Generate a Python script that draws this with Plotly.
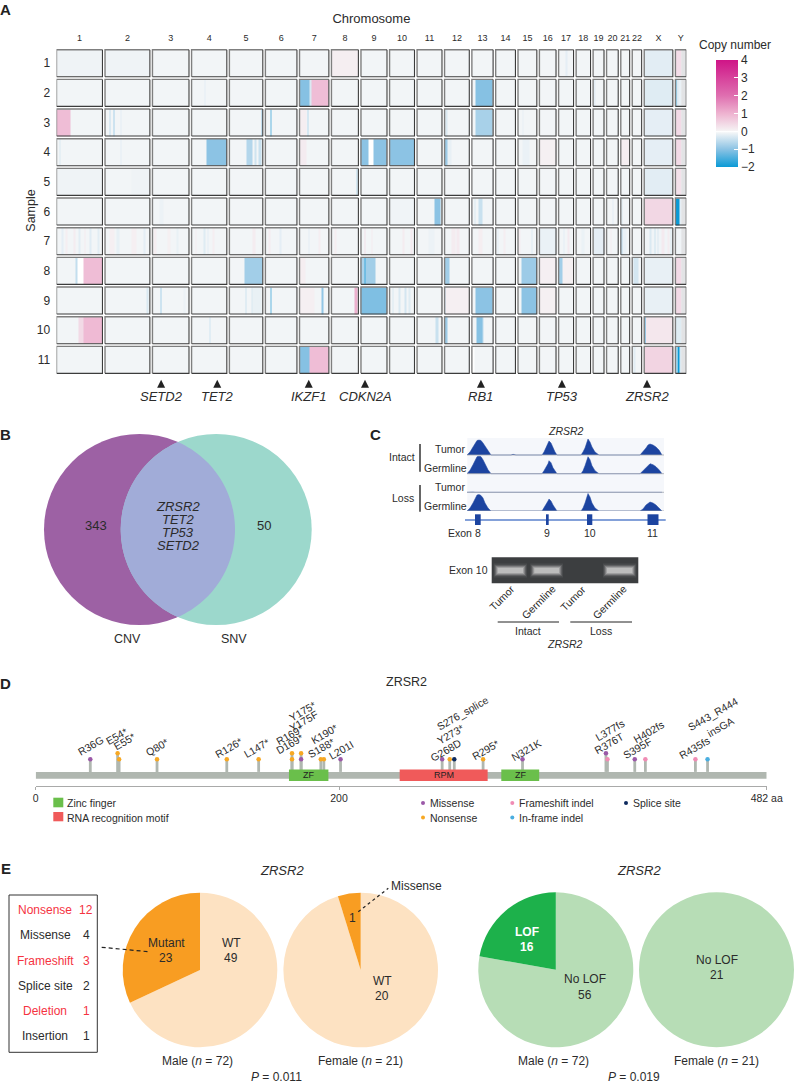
import numpy as np
import plotly.graph_objects as go

W, H = 794, 1084
FONT = "Liberation Sans"
INK = "#2b2b2b"

# ---------- Panel A data ----------
CHROMS = [str(i) for i in range(1, 23)] + ["X", "Y"]
CHROM_MB = [249, 243, 198, 191, 181, 171, 159, 146, 141, 135, 135, 134, 115, 107, 102, 90, 81, 78, 59, 63, 48, 51, 155, 59]
CHROM_GAP_MB = 14
SAMPLES = list(range(1, 12))
BASE_CN = -0.08
X_BASE = [-0.22, -0.25, -0.2, -0.2, -0.22, 0.45, -0.1, -0.17, -0.17, 0.2, 0.5]
Y_LEFT = [0.35, -0.15, 0.4, 0.4, 0.3, -0.2, -0.1, 0.4, 0.4, -0.25, -0.2]
Y_GRAY_FROM = 0.55

# (chromosome, start fraction, end fraction, copy number)
S1 = [("1", 0, 1, -0.11), ("2", 0, 1, -0.11), ("8", 0, 1, 0.1), ("17", 0.45, 0.6, -0.2), ("Y", 0, 0.45, 0.35)]
S2 = [("4", 0.36, 0.39, -0.2), ("7", 0, 0.35, -1.05), ("7", 0.35, 0.42, -0.3), ("7", 0.42, 1, 0.85),
      ("13", 0.15, 0.95, -1.05), ("19", 0.05, 0.2, -0.2), ("Y", 0, 0.1, -1.4), ("Y", 0.1, 0.3, -0.3)]
S3 = [("1", 0, 0.3, 0.85), ("2", 0.1, 0.13, -0.5), ("2", 0.19, 0.22, -0.75), ("2", 0.35, 0.37, -0.2),
      ("5", 0.95, 0.98, -0.9), ("6", 0.15, 0.2, -1.3), ("7", 0, 0.25, 0.1), ("7", 0.28, 0.31, -0.6),
      ("12", 0.03, 0.1, -0.3), ("13", 0.15, 0.95, -0.75), ("15", 0.25, 0.3, -0.17)]
S4 = [("1", 0.07, 0.09, -0.3), ("2", 0.35, 0.37, -0.2), ("4", 0.42, 1, -1.0), ("5", 0.5, 0.68, -0.65),
      ("5", 0.75, 0.82, -0.4), ("5", 0.86, 0.95, -0.45), ("7", 0, 0.25, 0.14), ("9", 0, 0.28, -1.0),
      ("9", 0.28, 0.5, 0), ("9", 0.5, 1, -1.0), ("10", 0, 1, -1.0), ("12", 0, 0.1, -0.85), ("12", 0.1, 0.3, -0.17),
      ("15", 0.25, 0.6, -0.15), ("16", 0, 1, 0.07), ("21", 0, 1, 0.1)]
S5 = [("1", 0, 1, -0.11), ("8", 0.92, 0.96, -0.6), ("2", 0.6, 1, -0.11)]
S6 = [("3", 0.2, 0.3, -0.13), ("10", 0, 1, -0.1), ("11", 0.7, 0.96, -1.0), ("13", 0.1, 0.15, -0.3), ("13", 0.3, 0.5, -0.45),
      ("20", 0.5, 0.6, -0.2), ("21", 0.1, 0.2, -0.3), ("Y", 0, 0.35, -2.0), ("Y", 0.35, 0.55, -0.2)]
S7 = [("1", 0.1, 0.16, -0.2), ("1", 0.2, 0.24, 0.1), ("1", 0.38, 0.42, 0.12), ("1", 0.48, 0.52, -0.22), ("1", 0.6, 0.63, 0.14),
      ("1", 0.72, 0.76, -0.24), ("1", 0.9, 0.94, -0.22), ("2", 0.1, 0.2, 0.08), ("2", 0.25, 0.33, -0.18), ("2", 0.6, 0.7, 0.08),
      ("2", 0.85, 0.9, -0.2), ("3", 0.02, 0.1, 0.1), ("3", 0.4, 0.5, 0.07), ("3", 0.65, 0.7, -0.16), ("4", 0.35, 0.4, -0.25),
      ("4", 0.45, 0.48, -0.2), ("4", 0.1, 0.15, 0.1), ("4", 0.6, 0.65, 0.1), ("5", 0.7, 0.78, 0.12), ("6", 0.1, 0.15, 0.12),
      ("6", 0.45, 0.5, -0.2), ("7", 0.3, 0.34, -0.2), ("7", 0.65, 0.7, 0.1), ("8", 0.1, 0.2, 0.1), ("9", 0.15, 0.18, 0.3),
      ("9", 0.4, 0.44, 0.12), ("10", 0.5, 0.6, 0.12), ("10", 0.85, 0.9, 0.15), ("11", 0.45, 0.7, -0.13), ("12", 0.3, 0.45, 0.12),
      ("12", 0.5, 0.6, 0.15), ("13", 0.3, 0.5, 0.1), ("14", 0.1, 0.15, -0.2), ("14", 0.4, 0.5, 0.1), ("15", 0.05, 0.12, 0.1),
      ("15", 0.7, 0.76, -0.25), ("16", 0, 1, -0.15), ("17", 0.3, 0.4, -0.2), ("17", 0.6, 0.7, 0.15), ("18", 0.4, 0.6, -0.14),
      ("19", 0, 1, -0.2), ("20", 0.3, 0.45, 0.1), ("21", 0, 0.2, -0.55), ("21", 0.2, 0.6, -0.15),
      ("X", 0.2, 0.24, -0.3), ("X", 0.35, 0.39, -0.4), ("X", 0.47, 0.5, -0.3), ("X", 0.6, 0.7, 0.15), ("X", 0.82, 0.88, 0.12), ("X", 0.92, 0.96, -0.25)]
S8 = [("1", 0.42, 0.46, -0.5), ("1", 0.46, 0.58, 0), ("1", 0.58, 1, 0.85), ("5", 0.45, 1, -0.8), ("7", 0, 0.2, 0.1),
      ("9", 0, 0.15, -0.7), ("9", 0.15, 0.18, -1.6), ("9", 0.18, 0.56, -0.8), ("12", 0, 0.2, -0.8),
      ("15", 0.2, 1, -0.85), ("16", 0, 1, 0.08), ("17", 0, 0.25, -0.8), ("17", 0.25, 1, 0.07), ("22", 0.1, 0.7, -0.35)]
S9 = [("2", 0.93, 0.97, -0.3), ("3", 0.22, 0.25, -0.75), ("3", 0.85, 0.9, -0.13), ("5", 0.48, 0.51, -0.4), ("5", 0.65, 0.68, -0.3),
      ("5", 0.68, 0.95, -0.16), ("6", 0.15, 0.2, -1.3), ("7", 0, 0.5, 0.08), ("7", 0.76, 0.8, -0.95), ("8", 0.86, 0.98, 1.05),
      ("9", 0, 1, -1.1), ("10", 0.1, 0.15, -0.3), ("10", 0.35, 0.45, -0.3), ("10", 0.6, 0.68, -0.35), ("10", 0.75, 0.82, -0.25),
      ("12", 0, 0.05, -0.5), ("12", 0.05, 1, 0.08), ("13", 0.15, 0.95, -1.0), ("15", 0.2, 1, -1.0), ("16", 0, 1, 0.07)]
S10 = [("1", 0.48, 0.58, 0.4), ("1", 0.58, 1, 0.9), ("4", 0.51, 0.55, -0.38), ("11", 0.75, 0.85, -0.45), ("12", 0, 0.12, -0.85),
       ("13", 0.2, 0.5, -1.05), ("13", 0.5, 0.55, -0.55), ("X", 0, 0.05, -1.6), ("Y", 0, 0.1, -0.3)]
S11 = [("7", 0, 0.35, -1.05), ("7", 0.35, 1, 0.85), ("13", 0, 0.1, 0), ("22", 0.1, 0.3, -0.22),
       ("Y", 0, 0.13, -1.5), ("Y", 0.13, 0.22, 0), ("Y", 0.22, 0.35, -2.0), ("Y", 0.35, 0.55, -0.3)]
SAMPLE_SEGMENTS = [S1, S2, S3, S4, S5, S6, S7, S8, S9, S10, S11]

GENES = ["SETD2", "TET2", "IKZF1", "CDKN2A", "RB1", "TP53", "ZRSR2"]
GENE_CHROM = ["3", "4", "7", "9", "13", "17", "X"]
GENE_MB = [47, 139, 50, 22, 49, 18, 15]

# ---------- Panel B data ----------
VENN_COUNTS = [343, 50]
VENN_SHARED = ["ZRSR2", "TET2", "TP53", "SETD2"]
VENN_SETS = ["CNV", "SNV"]

# ---------- Panel C data ----------
COV_POS = [0, 3, 6, 8, 10, 12, 14, 16, 18, 21, 24, 44, 46, 49, 75, 77, 79, 81, 82, 84, 86, 88, 90,
           114, 116, 118, 120, 121, 123, 125, 128, 132, 173, 176, 179, 181, 183, 186, 189, 192, 195]
COV_T1 = [0, 3, 8, 12, 14.5, 15, 14.5, 12, 9, 4, 0, 0, 0.7, 0, 0, 3, 7, 12, 14, 12, 7, 3, 0,
          0, 3, 7, 13, 16, 13, 8, 3, 0, 0, 3, 7, 10, 11, 10, 8, 5, 0]
COV_T2 = [0, 3.5, 9, 14, 17, 17.5, 17, 14, 10, 4, 0, 0, 0, 0, 0, 3, 6, 10, 13, 11, 6, 3, 0,
          0, 3, 8, 14, 17, 14, 8, 3, 0, 0, 3, 6, 9, 10, 9, 7, 4, 0]
COV_T3 = [0, 0.5, 0.3, 0, 0, 0, 0, 0, 0, 0, 0, 0, 0, 0, 0, 0, 0.4, 0.5, 0.4, 0, 0, 0, 0,
          0, 0, 0, 0, 0, 0, 0, 0, 0, 0, 0, 0, 0, 0, 0, 0, 0, 0]
COV_T4 = [0, 3, 8, 13, 16, 16.5, 15.5, 13, 8, 3, 0, 0, 0.3, 0, 0, 3, 6, 10, 12, 10, 6, 3, 0,
          0, 3, 8, 14, 17.5, 14, 8, 3, 0, 0, 2, 6, 8, 9, 8, 6, 3, 0]
TRACK_OFFSET = [56, 37.3, 18.7, 0]
EXON_START = [8, 79, 120, 180.5]
EXON_END = [13.7, 81.7, 125.3, 191.5]
EXON_LABEL = ["8", "9", "10", "11"]
GEL_LANES = ["Tumor", "Germline", "Tumor", "Germline"]

# ---------- Panel D data ----------
PROT_LEN = 482
MUT_AA = [36, 54, 55, 80, 126, 147, 169, 169, 175, 175, 188, 190, 201, 268, 273, 276, 295, 321, 376, 377, 395, 402, 435, 443]
MUT_LEVEL = [1, 2, 1, 1, 1, 1, 1, 2, 1, 2, 1, 1, 1, 1, 1, 1, 1, 1, 2, 1, 1, 1, 1, 1]
MUT_TYPE = ["Missense", "Nonsense", "Nonsense", "Nonsense", "Nonsense", "Nonsense", "Nonsense", "Nonsense", "Missense",
            "Nonsense", "Nonsense", "Nonsense", "Missense", "Missense", "Nonsense", "Splice site", "Nonsense", "Missense",
            "Missense", "Frameshift indel", "Missense", "Frameshift indel", "Frameshift indel", "In-frame indel"]
MUT_NAME = ["R36G", "E54*", "E55*", "Q80*", "R126*", "L147*", "D169*", "R169*", "Y175F", "Y175*", "S188*", "K190*", "L201I",
            "G268D", "Y273*", "S276_splice", "R295*", "N321K", "R376T", "L377fs", "S395F", "H402fs", "R435fs", "S443_R444"]
DOMAIN_START = [167, 240, 307]
DOMAIN_END = [193, 298, 332]
DOMAIN_NAME = ["ZF", "RPM", "ZF"]

# ---------- Panel E data ----------
MUT_LABELS = ["WT", "Mutant"]
MUT_MALE = [49, 23]
MUT_FEMALE = [20, 1]
LOF_LABELS = ["No LOF", "LOF"]
LOF_MALE = [56, 16]
LOF_FEMALE = [21, 0]
CLASS_NAME = ["Nonsense", "Missense", "Frameshift", "Splice site", "Deletion", "Insertion"]
CLASS_COUNT = [12, 4, 3, 2, 1, 1]
CLASS_LOF = [True, False, True, False, True, False]


# ---------- helpers ----------
def fx(px):
    return px / W


def fy(py):
    return 1 - py / H


annots, shapes = [], []


def T(x, y, text, size=12, color=INK, anchor="center", angle=0):
    annots.append(dict(xref="paper", yref="paper", x=fx(x), y=fy(y), text=text, showarrow=False,
                       font=dict(family=FONT, size=size, color=color), xanchor=anchor, yanchor="middle",
                       textangle=angle, borderpad=0, borderwidth=0))


def box(x0, y0, x1, y1, fill=None, line=None, lw=1, layer="above"):
    shapes.append(dict(type="rect", xref="paper", yref="paper", x0=fx(x0), x1=fx(x1), y0=fy(y0), y1=fy(y1),
                       fillcolor=fill or "rgba(0,0,0,0)", layer=layer,
                       line=dict(color=line or "rgba(0,0,0,0)", width=lw if line else 0)))


def seg(x0, y0, x1, y1, color=INK, lw=1, dash=None):
    shapes.append(dict(type="line", xref="paper", yref="paper", x0=fx(x0), x1=fx(x1), y0=fy(y0), y1=fy(y1),
                       line=dict(color=color, width=lw, dash=dash or "solid")))


def dot(x, y, r, color):
    shapes.append(dict(type="circle", xref="paper", yref="paper", x0=fx(x - r), x1=fx(x + r), y0=fy(y + r), y1=fy(y - r),
                       fillcolor=color, line=dict(width=0)))


fig = go.Figure()

# ---------- Panel A ----------
chrom_start = {}
pos = 0
for name, size in zip(CHROMS, CHROM_MB):
    chrom_start[name] = pos
    pos += size + CHROM_GAP_MB
GENOME_LEN = pos - CHROM_GAP_MB
chrom_size = dict(zip(CHROMS, CHROM_MB))
ROW_HALF = 0.455


def to_mb(chrom, frac):
    return chrom_start[chrom] + frac * chrom_size[chrom]


all_segments = []
for s, segs in enumerate(SAMPLE_SEGMENTS):
    full = [("X", 0, 1, X_BASE[s]), ("Y", 0, Y_GRAY_FROM, Y_LEFT[s])] + list(segs)
    all_segments.append(full)

edges = {0.0, float(GENOME_LEN)}
for name in CHROMS:
    edges.add(float(chrom_start[name]))
    edges.add(float(chrom_start[name] + chrom_size[name]))
for full in all_segments:
    for c, a, b, _ in full:
        edges.add(float(to_mb(c, a)))
        edges.add(float(to_mb(c, b)))
x_edges = np.array(sorted(edges))
x_mid = (x_edges[:-1] + x_edges[1:]) / 2

y_edges = [0.5]
for sm in SAMPLES:
    y_edges += [sm - ROW_HALF, sm + ROW_HALF]
y_edges.append(11.5)

in_chrom = np.zeros(len(x_mid), dtype=bool)
for name in CHROMS:
    in_chrom |= (x_mid > chrom_start[name]) & (x_mid < chrom_start[name] + chrom_size[name])

z = [[None] * len(x_mid)]
for s, full in enumerate(all_segments):
    row = np.full(len(x_mid), BASE_CN)
    for c, a, b, v in full:
        row[(x_mid > to_mb(c, a)) & (x_mid < to_mb(c, b))] = v
    z.append([float(v) if k else None for v, k in zip(row, in_chrom)])
    z.append([None] * len(x_mid))

CS_STOPS = [(-2, "#0a9ad6"), (-1, "#8cc3e4"), (-0.08, "#f2f5f7"), (0, "#ffffff"), (0.05, "#f5f1f3"), (1, "#eeb3d0"), (2, "#df6fb0"), (4, "#cf1487")]
colorscale = [[(v + 2) / 6, c] for v, c in CS_STOPS]

fig.add_trace(go.Heatmap(x=x_edges, y=y_edges, z=z, zmin=-2, zmax=4, colorscale=colorscale, hoverongaps=False,
                         colorbar=dict(x=fx(716), xanchor="left", y=fy(60), yanchor="top", lenmode="pixels", len=107,
                                       thicknessmode="pixels", thickness=22, xpad=0, ypad=0, outlinewidth=0,
                                       tickvals=[-2, -1, 0, 1, 2, 3, 4], ticks="inside", ticklen=4, tickcolor="white",
                                       tickfont=dict(family=FONT, size=12, color=INK))))

ygray_x0 = to_mb("Y", Y_GRAY_FROM)
ygray_x1 = to_mb("Y", 1)
gray_z = [[None]]
for sm in SAMPLES:
    gray_z += [[1], [None]]
fig.add_trace(go.Heatmap(x=[ygray_x0, ygray_x1], y=y_edges, z=gray_z, zmin=0, zmax=2, showscale=False,
                         colorscale=[[0, "#e2e3e5"], [1, "#e2e3e5"]], hoverinfo="skip"))

tx, ty, bx, by = [], [], [], []
for sm in SAMPLES:
    for name in CHROMS:
        a, b = chrom_start[name], chrom_start[name] + chrom_size[name]
        t, u = sm - ROW_HALF, sm + ROW_HALF
        tx += [a, a, b, None]
        ty += [u, t, t, None]
        bx += [a, b, b, None]
        by += [u, u, t, None]
fig.add_trace(go.Scatter(x=tx, y=ty, mode="lines", line=dict(color="#7f7f7f", width=1.4), hoverinfo="skip", showlegend=False))
fig.add_trace(go.Scatter(x=bx, y=by, mode="lines", line=dict(color="#3c3c3c", width=1.1), hoverinfo="skip", showlegend=False))

gene_x = [chrom_start[c] + m for c, m in zip(GENE_CHROM, GENE_MB)]
fig.add_trace(go.Scatter(x=gene_x, y=[11.67] * len(gene_x), mode="markers", cliponaxis=False, hoverinfo="skip", showlegend=False,
                         marker=dict(symbol="arrow-up", size=8, color="#222222")))
for g, gx in zip(GENES, gene_x):
    annots.append(dict(xref="x", yref="y", x=gx, y=12.25, text=f"<i>{g}</i>", showarrow=False,
                       font=dict(family=FONT, size=13, color=INK)))

T(734.5, 45, "Copy number", 12)
T(30.7, 211, "Sample", 12.5, angle=-90)

# ---------- Panel B ----------
VX1, VX2, VY, VR = 139.5, 216.2, 529.5, 95.5
for cx, col in ((VX1, "#9d61a4"), (VX2, "#9cd8cc")):
    dot(cx, VY, VR, col)
half = np.arccos((VX2 - VX1) / 2 / VR)
ang = np.linspace(-half, half, 60)
lens = [(VX1 + VR * np.cos(a), VY + VR * np.sin(a)) for a in ang] + \
       [(VX2 - VR * np.cos(a), VY - VR * np.sin(a)) for a in ang]
path = "M " + " L ".join(f"{fx(px):.5f},{fy(py):.5f}" for px, py in lens) + " Z"
shapes.append(dict(type="path", xref="paper", yref="paper", path=path, fillcolor="#a1acd8", line=dict(width=0)))
T(96, 525, str(VENN_COUNTS[0]), 13)
T(263.5, 525, str(VENN_COUNTS[1]), 13)
for g, yy in zip(VENN_SHARED, [506.7, 519.7, 532.7, 545.3]):
    T(178.3, yy, f"<i>{g}</i>", 13)
T(127.3, 639.3, VENN_SETS[0], 12.5)
T(234.3, 639.3, VENN_SETS[1], 12.5)

# ---------- Panel C ----------
box(467.3, 438, 664, 511, fill="#f5f7fb", layer="below")
for off, cov in zip(TRACK_OFFSET, [COV_T1, COV_T2, COV_T3, COV_T4]):
    ys = [off + v for v in cov]
    fig.add_trace(go.Scatter(x=COV_POS, y=ys, xaxis="x2", yaxis="y2", mode="lines", fill="toself", fillcolor="#1c44a0",
                             line=dict(color="#1c44a0", width=0.5), hoverinfo="skip", showlegend=False))
    fig.add_trace(go.Scatter(x=[0, 197], y=[off, off], xaxis="x2", yaxis="y2", mode="lines",
                             line=dict(color="#a4a8b0", width=0.8), hoverinfo="skip", showlegend=False))
seg(465, 520, 665.7, 520, "#5b82cc", 1.3)
for a, b in zip(EXON_START, EXON_END):
    shapes.append(dict(type="rect", xref="x2", yref="paper", x0=a, x1=b, y0=fy(525), y1=fy(514.3), fillcolor="#1c44a0", line=dict(width=0)))
for lab, xx in zip(EXON_LABEL, [477.7, 547.3, 590, 652.7]):
    T(xx, 532.7, lab, 10.5)
T(460, 532.7, "Exon", 10.5)
T(566, 431, "<i>ZRSR2</i>", 10.5)
T(450.3, 449, "Tumor", 10.5)
T(445.7, 467.7, "Germline", 10.5)
T(450.3, 487, "Tumor", 10.5)
T(445.7, 506, "Germline", 10.5)
T(401.7, 457.3, "Intact", 10.5)
T(403.3, 497.7, "Loss", 10.5)
seg(420, 444, 420, 471.7, "#333333", 1.5)
seg(420, 485, 420, 511.7, "#333333", 1.5)
box(491.7, 557.3, 638.3, 583.3, fill="#3c3e40")
for a, b in ((495.7, 525), (532.3, 561), (605, 634.3)):
    box(a - 2, 563.5, b + 2, 577.5, fill="rgba(255,255,255,0.07)")
    box(a - 1, 565, b + 1, 576, fill="rgba(255,255,255,0.12)")
    box(a, 566, b, 575, fill="rgba(255,255,255,0.20)")
    box(a + 1, 567, b - 1, 574, fill="rgba(255,255,255,0.25)")
    box(a + 2, 568, b - 2, 573, fill="rgba(255,255,255,0.30)")
T(468.5, 570.3, "Exon 10", 10.5)
for lab, (xx, yy) in zip(GEL_LANES, [(501.7, 598.3), (538.3, 601.7), (573.3, 598.3), (609.3, 601.7)]):
    T(xx, yy, lab, 10.5, angle=-45)
seg(497.7, 622, 559, 622, "#222222", 1)
seg(570.3, 622, 632, 622, "#222222", 1)
T(528, 630.5, "Intact", 10.5)
T(601, 630.5, "Loss", 10.5)
T(564.7, 643.5, "<i>ZRSR2</i>", 10.5)

# ---------- Panel D ----------
BACKBONE_Y, STEM_BASE = -1.67, -1.1
fig.add_trace(go.Scatter(x=[0, PROT_LEN], y=[BACKBONE_Y, BACKBONE_Y], xaxis="x3", yaxis="y3", mode="lines",
                         line=dict(color="#b0b7b0", width=6.8), hoverinfo="skip", showlegend=False))
sx, sy = [], []
for a, l in zip(MUT_AA, MUT_LEVEL):
    sx += [a, a, None]
    sy += [STEM_BASE, l, None]
fig.add_trace(go.Scatter(x=sx, y=sy, xaxis="x3", yaxis="y3", mode="lines", line=dict(color="#b0b7b0", width=2.8),
                         hoverinfo="skip", showlegend=False))
DOMAIN_COLOR = {"ZF": "#6abf4b", "RPM": "#f05a5a"}
for a, b, n in zip(DOMAIN_START, DOMAIN_END, DOMAIN_NAME):
    fig.add_trace(go.Scatter(x=[a, b], y=[BACKBONE_Y, BACKBONE_Y], xaxis="x3", yaxis="y3", mode="lines",
                             line=dict(color=DOMAIN_COLOR[n], width=11.6), hoverinfo="skip", showlegend=False))
    annots.append(dict(xref="x3", yref="y3", x=(a + b) / 2, y=BACKBONE_Y, text=n, showarrow=False,
                       font=dict(family=FONT, size=9, color="#222222")))
TYPE_COLOR = {"Missense": "#9b59a8", "Nonsense": "#f7a823", "Frameshift indel": "#f08cb4",
              "In-frame indel": "#4aaee0", "Splice site": "#0d2a5e"}
for tname, col in TYPE_COLOR.items():
    idx = [i for i, t in enumerate(MUT_TYPE) if t == tname]
    fig.add_trace(go.Scatter(x=[MUT_AA[i] for i in idx], y=[MUT_LEVEL[i] for i in idx], xaxis="x3", yaxis="y3", mode="markers",
                             marker=dict(color=col, size=4.5), name=tname, hoverinfo="skip", showlegend=False))
LABEL_CENTER = [(90, 746), (116.7, 735.7), (125, 741), (157, 747), (228, 747.7), (256.7, 748.3), (289.3, 744), (289.3, 735),
                (303.3, 720.7), (302.7, 710.7), (321, 748.3), (324, 734), (341, 750), (446, 750), (450.7, 734), (462.7, 713.3),
                (485, 750), (526, 750), (609.3, 742.7), (610, 730), (637.3, 748.3), (648.3, 731.7), (694, 748.3), (712.7, 714)]
for name, (xx, yy) in zip(MUT_NAME, LABEL_CENTER):
    T(xx, yy, name, 10.5, angle=-30)
T(720, 726.7, "insGA", 10.5, angle=-30)
T(406, 682, "ZRSR2", 12.5)
box(53.3, 797.7, 63.3, 807.3, fill="#6abf4b")
box(53.3, 812, 63.3, 821.3, fill="#f05a5a")
T(67.3, 803, "Zinc finger", 10.5, anchor="left")
T(67.3, 817.5, "RNA recognition motif", 10.5, anchor="left")
for xx, yy, lab, key in ((423, 803, "Missense", "Missense"), (423, 817.5, "Nonsense", "Nonsense"),
                         (512.3, 803, "Frameshift indel", "Frameshift indel"), (512.3, 817.5, "In-frame indel", "In-frame indel"),
                         (626, 803, "Splice site", "Splice site")):
    dot(xx, yy, 2, TYPE_COLOR[key])
    T(xx + 7, yy, lab, 10.5, anchor="left")


# ---------- Panel E ----------
def pie(vals, labels, cols, cx, cy, r):
    fig.add_trace(go.Pie(values=vals, labels=labels, marker=dict(colors=cols, line=dict(width=0)), sort=False,
                         direction="clockwise", rotation=0, textinfo="none", hoverinfo="skip", showlegend=False,
                         domain=dict(x=[fx(cx - r), min(1, fx(cx + r))], y=[fy(cy + r), fy(cy - r)])))


pie(MUT_MALE, MUT_LABELS, ["#fde2c2", "#f89d22"], 200, 970, 77.3)
pie(MUT_FEMALE, MUT_LABELS, ["#fde2c2", "#f89d22"], 360.7, 970, 77.3)
pie(LOF_MALE, LOF_LABELS, ["#b7ddb6", "#1db14b"], 555.8, 969.8, 77.5)
pie(LOF_FEMALE, LOF_LABELS, ["#b7ddb6", "#1db14b"], 716.5, 969.8, 77.5)

T(166, 942.7, MUT_LABELS[1])
T(166, 957.5, str(MUT_MALE[1]))
T(231, 942.7, MUT_LABELS[0])
T(231, 957.5, str(MUT_MALE[0]))
T(352.3, 917.7, str(MUT_FEMALE[1]))
T(382, 980.7, MUT_LABELS[0])
T(382, 996, str(MUT_FEMALE[0]))
T(391, 886, "Missense", 12, anchor="left")
seg(358.3, 911.7, 388.3, 888.3, "#222222", 1.2, "3px,3px")
seg(101.7, 947.3, 148.3, 951.7, "#222222", 1.2, "4px,3px")
T(526.7, 932, "<b>LOF</b>", 12, color="white")
T(526.7, 947, f"<b>{LOF_MALE[1]}</b>", 12, color="white")
T(585.3, 979.3, LOF_LABELS[0])
T(585.3, 994.7, str(LOF_MALE[0]))
T(716.7, 960, LOF_LABELS[0])
T(716.7, 975, str(LOF_FEMALE[0]))
T(281.7, 870, "<i>ZRSR2</i>", 13)
T(639, 870, "<i>ZRSR2</i>", 13)
T(197.3, 1061, "Male (<i>n</i> = 72)")
T(360.7, 1061, "Female (<i>n</i> = 21)")
T(553.3, 1061, "Male (<i>n</i> = 72)")
T(716.7, 1061, "Female (<i>n</i> = 21)")
T(276.7, 1077, "<i>P</i> = 0.011")
T(634.3, 1077, "<i>P</i> = 0.019")

box(9, 895, 97.3, 1052.3, line="#333333", lw=1)
for name, n, lof, yy in zip(CLASS_NAME, CLASS_COUNT, CLASS_LOF, [910, 935.3, 960.7, 985.7, 1011, 1036.3]):
    col = "#f5333f" if lof else INK
    T(45, yy, name, 12, color=col)
    T(86, yy, str(n), 12, color=col)

# panel letters
for let, xx, yy in (("A", 5.7, 9), ("B", 5.7, 435), ("C", 375, 434), ("D", 5.7, 683), ("E", 5.7, 868.3)):
    T(xx, yy, f"<b>{let}</b>", 15, color="#222222")

# ---------- Layout ----------
tick_centers = [chrom_start[c] + chrom_size[c] / 2 for c in CHROMS]
fig.update_layout(
    width=W, height=H, margin=dict(l=0, r=0, t=0, b=0, pad=0, autoexpand=False), paper_bgcolor="white", plot_bgcolor="white",
    font=dict(family=FONT, color=INK), showlegend=False, annotations=annots, shapes=shapes,
    xaxis=dict(domain=[fx(56.5), fx(686.3)], range=[0, GENOME_LEN], side="top", tickmode="array", tickvals=tick_centers,
               ticktext=CHROMS, tickangle=0, automargin=False, tickfont=dict(family=FONT, size=9, color=INK), showgrid=False, zeroline=False,
               ticks="outside", ticklen=3, tickcolor="rgba(0,0,0,0)",
               title=dict(text="Chromosome", font=dict(family=FONT, size=13, color=INK), standoff=6)),
    yaxis=dict(domain=[fy(407.3), fy(48.4)], range=[12.6, 0.5], tickmode="array", tickvals=SAMPLES, ticktext=[str(s) for s in SAMPLES],
               automargin=False, tickfont=dict(family=FONT, size=12, color=INK), showgrid=False, zeroline=False,
               ticks="outside", ticklen=3, tickcolor="rgba(0,0,0,0)"),
    xaxis2=dict(domain=[fx(467), fx(664)], range=[0, 197], visible=False, anchor="y2"),
    yaxis2=dict(domain=[fy(511), fy(438)], range=[0, 73], visible=False, anchor="x2"),
    xaxis3=dict(domain=[fx(35.7), fx(766.7)], range=[0, PROT_LEN], anchor="free", position=fy(785.7), tickmode="array",
                tickvals=[0, 200, PROT_LEN], ticktext=["0", "200", f"{PROT_LEN} aa"], ticks="outside", ticklen=3, tickcolor="#a9aaa9",
                tickangle=0, automargin=False, showline=True, linecolor="#a9aaa9", linewidth=1, showgrid=False, zeroline=False,
                tickfont=dict(family=FONT, size=10.5, color=INK)),
    yaxis3=dict(domain=[fy(800), fy(720)], range=[-5.783, 7.55], visible=False, anchor="x3"),
)

fig.write_html("out.html", config=dict(displayModeBar=False),
               post_script="document.body.style.margin='0';document.body.style.overflow='hidden';")
